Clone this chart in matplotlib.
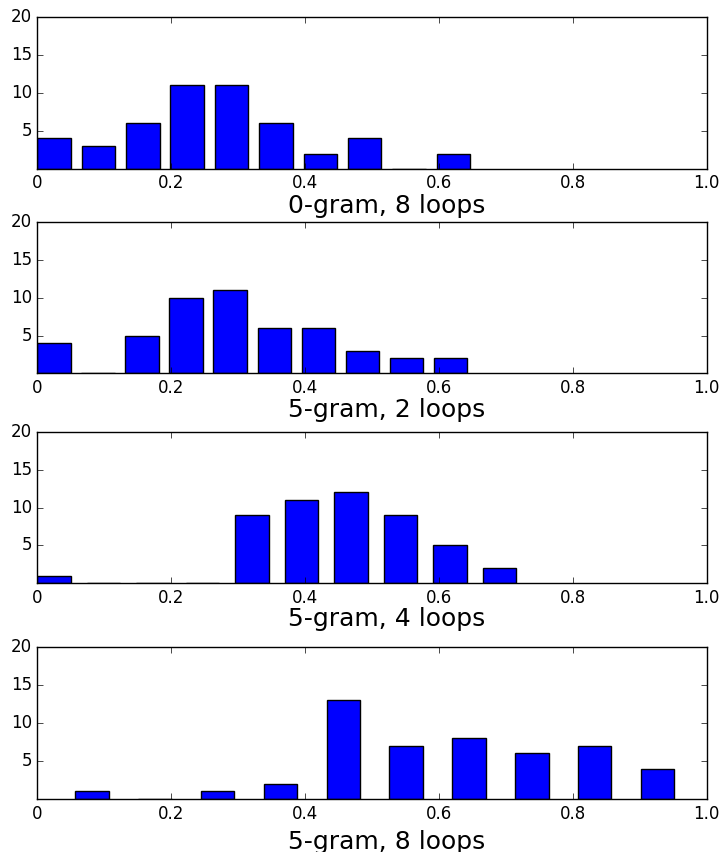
import numpy as np
import matplotlib
matplotlib.use("Agg")
from matplotlib import pyplot as plt

plt.style.use("classic")

titles = ["0-gram, 8 loops", "5-gram, 2 loops", "5-gram, 4 loops", "5-gram, 8 loops"]

# histogram counts (10 bins each) and the value range the bins cover
counts_0g8 = [4, 3, 6, 11, 11, 6, 2, 4, 0, 2]
counts_5g2 = [4, 0, 5, 10, 11, 6, 6, 3, 2, 2]
counts_5g4 = [1, 0, 0, 0, 9, 11, 12, 9, 5, 2]
counts_5g8 = [1, 0, 1, 2, 13, 7, 8, 6, 7, 4]
ranges = [(0.0, 0.663), (0.0, 0.658), (0.0, 0.739), (0.0566, 0.9955)]

x_ticks = [0, 0.2, 0.4, 0.6, 0.8, 1.0]
x_ticklabels = ["0", "0.2", "0.4", "0.6", "0.8", "1.0"]
y_ticks = [5, 10, 15, 20]

all_counts = [counts_0g8, counts_5g2, counts_5g4, counts_5g8]

fig = plt.figure(figsize=(7.23, 8.52), dpi=100, facecolor="white")

# axes boxes: left, bottom, width, height
boxes = [
    (0.0516, 0.802, 0.9259, 0.178),
    (0.0516, 0.5618, 0.9259, 0.1776),
    (0.0516, 0.3154, 0.9259, 0.1776),
    (0.0516, 0.0622, 0.9259, 0.1781),
]
pads = [1, 1, 0, 5]

for counts, (lo, hi), title, box, pad in zip(all_counts, ranges, titles, boxes, pads):
    ax = fig.add_axes(box)
    edges = np.linspace(lo, hi, len(counts) + 1)
    ax.bar(edges[:-1], counts, width=0.05, align="edge",
           color="blue", edgecolor="black", linewidth=1)
    ax.set_xlim(0, 1)
    ax.set_ylim(0, 20)
    ax.set_xticks(x_ticks)
    ax.set_xticklabels(x_ticklabels)
    ax.set_yticks(y_ticks)
    ax.tick_params(labelsize=12)
    ax.set_xlabel(title, fontsize=18, labelpad=pad)
    ax.xaxis.label.set_x(0.522)

plt.savefig("out.png", dpi=100, facecolor="white")
